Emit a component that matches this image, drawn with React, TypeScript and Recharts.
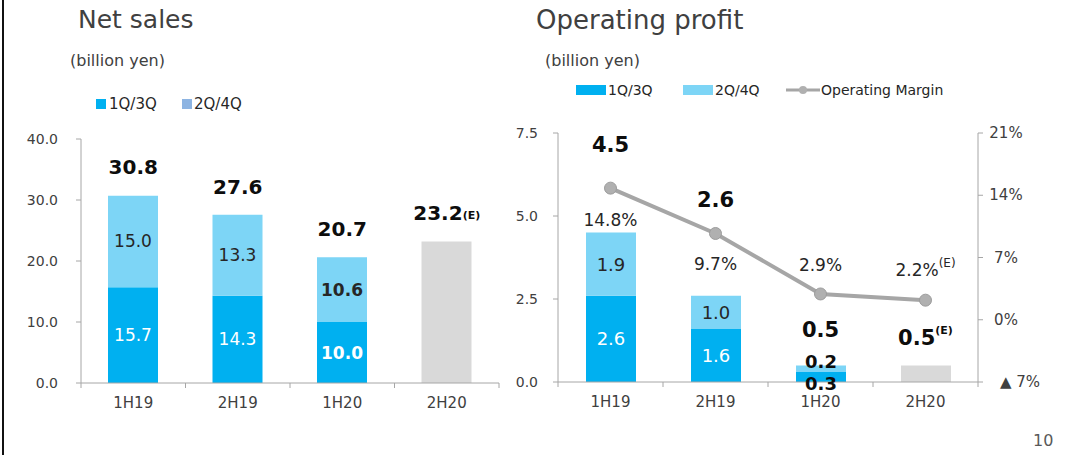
import React from "react";
import { ComposedChart, Bar, Line, XAxis, YAxis, LabelList } from "recharts";

const periods = ["1H19", "2H19", "1H20", "2H20"];

// Net sales (billion yen)
const salesFirst = [15.7, 14.3, 10.0, null];
const salesSecond = [15.0, 13.3, 10.6, null];
const salesEstimate = [null, null, null, 23.2];
const salesTotals = [30.8, 27.6, 20.7, 23.2];
const salesTicks = [0, 10, 20, 30, 40];

// Operating profit (billion yen) + margin (%)
const profitFirst = [2.6, 1.6, 0.3, null];
const profitSecond = [1.9, 1.0, 0.2, null];
const profitEstimate = [null, null, null, 0.5];
const profitTotals = [4.5, 2.6, 0.5, 0.5];
const operatingMargin = [14.8, 9.7, 2.9, 2.2];
const profitTicks = [0, 2.5, 5, 7.5];
const marginTicks = [-7, 0, 7, 14, 21];

const ESTIMATE_INDEX = 3;
const LATEST_INDEX = 2;

// label nudges (px), hand placed like the slide
const salesTotalDy = [-28, -28, -28, -28];
const profitTotalDy = [-88, -96, -35, -27];
const marginLabelDy = [32, 31, -29, -30];
const profitFirstDy = [0, 0, 6, 0];
const profitSecondDy = [0, 0, -7, 0];

const DARK_BLUE = "#00B0F0";
const LIGHT_BLUE = "#7DD5F6";
const LEGEND_BLUE = "#8DB4E2";
const GREY_BAR = "#D9D9D9";
const LINE_GREY = "#A6A6A6";
const AXIS = "#A6A6A6";
const TEXT = "#262626";
const TICK_TEXT = "#404040";
const FONT = "'DejaVu Sans', Verdana, sans-serif";

const salesData = periods.map((p, i) => ({
  period: p,
  first: salesFirst[i],
  second: salesSecond[i],
  estimate: salesEstimate[i],
  total: salesTotals[i],
}));

const profitData = periods.map((p, i) => ({
  period: p,
  first: profitFirst[i],
  second: profitSecond[i],
  estimate: profitEstimate[i],
  total: profitTotals[i],
  margin: operatingMargin[i],
}));

function PeriodTick(props: any) {
  const { x, y, payload, index, band } = props;
  return (
    <g>
      <line x1={x - band / 2} x2={x - band / 2} y1={y} y2={y + 5} stroke={AXIS} />
      {index === periods.length - 1 && (
        <line x1={x + band / 2} x2={x + band / 2} y1={y} y2={y + 5} stroke={AXIS} />
      )}
      <text
        x={x}
        y={y + 20}
        textAnchor="middle"
        dominantBaseline="central"
        fontSize={15}
        fontFamily={FONT}
        fill={TICK_TEXT}
      >
        {payload.value}
      </text>
    </g>
  );
}

function MarginTick(props: any) {
  const { x, y, payload } = props;
  const v = payload.value;
  const neg = v < 0;
  return (
    <text
      x={neg ? x + 17 : x + 23}
      y={y}
      textAnchor={neg ? "start" : "middle"}
      dominantBaseline="central"
      fontSize={15}
      fontFamily={FONT}
      fill={TICK_TEXT}
    >
      {neg ? `▲ ${-v}%` : `${v}%`}
    </text>
  );
}

function segmentLabel(size: number, color: (i: number) => string, dys?: number[]) {
  return (props: any) => {
    const { x, y, width, height, value, index } = props;
    if (value == null) return null;
    const dy = dys ? dys[index] : 0;
    return (
      <text
        x={x + width / 2}
        y={y + height / 2 + dy}
        textAnchor="middle"
        dominantBaseline="central"
        fontSize={size}
        fontWeight={index === LATEST_INDEX ? "bold" : "normal"}
        fontFamily={FONT}
        fill={color(index)}
      >
        {Number(value).toFixed(1)}
      </text>
    );
  };
}

function totalLabel(dys: number[], size: number, superE: boolean) {
  return (props: any) => {
    const { x, y, value, index } = props;
    const isEst = index === ESTIMATE_INDEX;
    return (
      <text
        x={x}
        y={y + dys[index]}
        textAnchor="middle"
        dominantBaseline="central"
        fontSize={size}
        fontWeight="bold"
        fontFamily={FONT}
        fill="#0D0D0D"
      >
        {Number(value).toFixed(1)}
        {isEst && (
          <tspan fontSize={11} dy={superE ? -8 : 2}>
            (E)
          </tspan>
        )}
      </text>
    );
  };
}

function marginLabel(props: any) {
  const { x, y, value, index } = props;
  const isEst = index === ESTIMATE_INDEX;
  return (
    <text
      x={x}
      y={y + marginLabelDy[index]}
      textAnchor="middle"
      dominantBaseline="central"
      fontSize={17}
      fontFamily={FONT}
      fill={TEXT}
    >
      {Number(value).toFixed(1)}%
      {isEst && (
        <tspan fontSize={12} dy={-7}>
          (E)
        </tspan>
      )}
    </text>
  );
}

function NetSalesChart() {
  const band = (499 - 81) / periods.length;
  return (
    <ComposedChart
      width={520}
      height={420}
      data={salesData}
      margin={{ top: 139, right: 21, bottom: 7, left: 21 }}
      style={{ position: "absolute", left: 0, top: 0 }}
    >
      <XAxis
        dataKey="period"
        height={30}
        stroke={AXIS}
        tickLine={false}
        tickSize={0}
        tickMargin={0}
        tick={<PeriodTick band={band} />}
        interval={0}
      />
      <YAxis
        width={60}
        domain={[0, 40]}
        ticks={salesTicks}
        stroke={AXIS}
        tickSize={5}
        tickMargin={18}
        tickFormatter={(v: number) => v.toFixed(1)}
        tick={{ fontSize: 14, fill: TICK_TEXT, fontFamily: FONT }}
      />
      <Bar dataKey="first" stackId="s" fill={DARK_BLUE} barSize={50} isAnimationActive={false}>
        <LabelList dataKey="first" content={segmentLabel(17, () => "#FFFFFF")} />
      </Bar>
      <Bar dataKey="second" stackId="s" fill={LIGHT_BLUE} barSize={50} isAnimationActive={false}>
        <LabelList dataKey="second" content={segmentLabel(17, () => TEXT)} />
      </Bar>
      <Bar dataKey="estimate" stackId="s" fill={GREY_BAR} barSize={50} isAnimationActive={false} />
      <Line dataKey="total" stroke="none" dot={false} activeDot={false} isAnimationActive={false}>
        <LabelList dataKey="total" content={totalLabel(salesTotalDy, 20, false)} />
      </Line>
    </ComposedChart>
  );
}

function ProfitChart() {
  const band = (978 - 558) / periods.length;
  return (
    <ComposedChart
      width={567}
      height={420}
      data={profitData}
      margin={{ top: 133, right: 9, bottom: 8, left: 18 }}
      style={{ position: "absolute", left: 500, top: 0 }}
    >
      <XAxis
        dataKey="period"
        height={30}
        stroke={AXIS}
        tickLine={false}
        tickSize={0}
        tickMargin={0}
        tick={<PeriodTick band={band} />}
        interval={0}
      />
      <YAxis
        yAxisId="left"
        width={40}
        domain={[0, 7.5]}
        ticks={profitTicks}
        stroke={AXIS}
        tickSize={5}
        tickMargin={15}
        tickFormatter={(v: number) => v.toFixed(1)}
        tick={{ fontSize: 14, fill: TICK_TEXT, fontFamily: FONT }}
      />
      <YAxis
        yAxisId="right"
        orientation="right"
        width={80}
        domain={[-7, 21]}
        ticks={marginTicks}
        stroke={AXIS}
        tickSize={5}
        tickMargin={0}
        tick={<MarginTick />}
      />
      <Bar yAxisId="left" dataKey="first" stackId="p" fill={DARK_BLUE} barSize={50} isAnimationActive={false}>
        <LabelList
          dataKey="first"
          content={segmentLabel(18, (i) => (profitFirstDy[i] ? "#0D0D0D" : "#FFFFFF"), profitFirstDy)}
        />
      </Bar>
      <Bar yAxisId="left" dataKey="second" stackId="p" fill={LIGHT_BLUE} barSize={50} isAnimationActive={false}>
        <LabelList
          dataKey="second"
          content={segmentLabel(18, (i) => (profitSecondDy[i] ? "#0D0D0D" : TEXT), profitSecondDy)}
        />
      </Bar>
      <Bar yAxisId="left" dataKey="estimate" stackId="p" fill={GREY_BAR} barSize={50} isAnimationActive={false} />
      <Line
        yAxisId="left"
        dataKey="total"
        stroke="none"
        dot={false}
        activeDot={false}
        isAnimationActive={false}
      >
        <LabelList dataKey="total" content={totalLabel(profitTotalDy, 21, true)} />
      </Line>
      <Line
        yAxisId="right"
        dataKey="margin"
        stroke={LINE_GREY}
        strokeWidth={4}
        dot={{ r: 6, fill: "#B0B0B0", stroke: "#9C9C9C", strokeWidth: 1 }}
        activeDot={false}
        isAnimationActive={false}
      >
        <LabelList dataKey="margin" content={marginLabel} />
      </Line>
    </ComposedChart>
  );
}

const legendText: React.CSSProperties = {
  position: "absolute",
  color: TEXT,
  lineHeight: "16px",
};

export default function App() {
  return (
    <div
      style={{
        position: "absolute",
        left: 0,
        top: 0,
        width: 1067,
        height: 455,
        background: "#FFFFFF",
        fontFamily: FONT,
        overflow: "hidden",
      }}
    >
      <div style={{ position: "absolute", left: 2, top: 0, width: 2, height: 455, background: "#111" }} />

      <div style={{ position: "absolute", left: 78, top: 5, fontSize: 25, color: "#404040" }}>Net sales</div>
      <div style={{ position: "absolute", left: 70, top: 51, fontSize: 16, color: TICK_TEXT }}>(billion yen)</div>
      <div style={{ position: "absolute", left: 96, top: 99, width: 10, height: 10, background: DARK_BLUE }} />
      <div style={{ ...legendText, fontSize: 15, left: 109, top: 96 }}>1Q/3Q</div>
      <div style={{ position: "absolute", left: 182, top: 99, width: 10, height: 10, background: LEGEND_BLUE }} />
      <div style={{ ...legendText, fontSize: 15, left: 194, top: 96 }}>2Q/4Q</div>

      <div style={{ position: "absolute", left: 536, top: 5, fontSize: 26, color: "#404040" }}>Operating profit</div>
      <div style={{ position: "absolute", left: 545, top: 51, fontSize: 16, color: TICK_TEXT }}>(billion yen)</div>
      <div style={{ position: "absolute", left: 576, top: 85, width: 30, height: 10, background: DARK_BLUE }} />
      <div style={{ ...legendText, fontSize: 14, left: 608, top: 82 }}>1Q/3Q</div>
      <div style={{ position: "absolute", left: 683, top: 85, width: 30, height: 10, background: LIGHT_BLUE }} />
      <div style={{ ...legendText, fontSize: 14, left: 715, top: 82 }}>2Q/4Q</div>
      <svg style={{ position: "absolute", left: 786, top: 84 }} width={34} height={12}>
        <line x1={0} x2={34} y1={6} y2={6} stroke={LINE_GREY} strokeWidth={3} />
        <circle cx={17} cy={6} r={4} fill="#B0B0B0" />
      </svg>
      <div style={{ ...legendText, fontSize: 14, left: 821, top: 82 }}>Operating Margin</div>

      <NetSalesChart />
      <ProfitChart />

      <div style={{ position: "absolute", left: 1033, top: 431, fontSize: 16, color: "#595959" }}>10</div>
    </div>
  );
}
